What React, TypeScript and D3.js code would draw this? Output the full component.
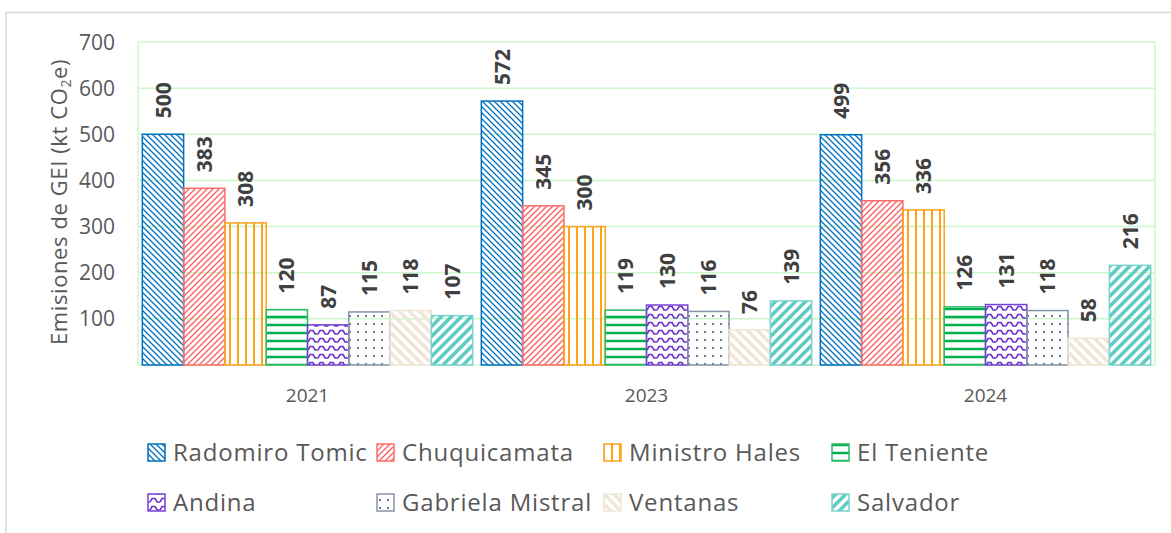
import React from "react";
import * as d3 from "d3";

const categories = ["2021", "2023", "2024"];
const seriesNames = [
  "Radomiro Tomic",
  "Chuquicamata",
  "Ministro Hales",
  "El Teniente",
  "Andina",
  "Gabriela Mistral",
  "Ventanas",
  "Salvador",
];
const radomiroTomic = [500, 572, 499];
const chuquicamata = [383, 345, 356];
const ministroHales = [308, 300, 336];
const elTeniente = [120, 119, 126];
const andina = [87, 130, 131];
const gabrielaMistral = [115, 116, 118];
const ventanas = [118, 76, 58];
const salvador = [107, 139, 216];
const yTicks = [100, 200, 300, 400, 500, 600, 700];

const seriesValues = [
  radomiroTomic,
  chuquicamata,
  ministroHales,
  elTeniente,
  andina,
  gabrielaMistral,
  ventanas,
  salvador,
];

const strokes = [
  "#0070C0",
  "#FF6B6B",
  "#FFA31A",
  "#2DBB66",
  "#7442D4",
  "#8494A8",
  "#EFE6D8",
  "#7AD3CD",
];

const W = 1171;
const H = 533;
const left = 138;
const right = 1155;
const top = 42;
const bottom = 365;

function Patterns() {
  return (
    <defs>
      <pattern id="p0" patternUnits="userSpaceOnUse" width="6" height="6">
        <path d="M0,0L6,6M-1,5L1,7M5,-1L7,1" stroke="#0070C0" strokeWidth="1.3" />
      </pattern>
      <pattern id="p1" patternUnits="userSpaceOnUse" width="6" height="6">
        <path d="M0,6L6,0M-1,1L1,-1M5,7L7,5" stroke="#FF5C5C" strokeWidth="1.3" />
      </pattern>
      <pattern id="p2" patternUnits="userSpaceOnUse" width="8" height="8">
        <path d="M4,0L4,8" stroke="#FFA31A" strokeWidth="2" />
      </pattern>
      <pattern id="p3" patternUnits="userSpaceOnUse" width="8" height="8" y="1">
        <path d="M0,4L8,4" stroke="#00B050" strokeWidth="2.5" />
      </pattern>
      <pattern id="p4" patternUnits="userSpaceOnUse" width="10" height="8">
        <path d="M0,6L2,2.5L5,2.5L7,6L10,6" stroke="#6A30D0" strokeWidth="1.6" fill="none" />
      </pattern>
      <pattern id="p5" patternUnits="userSpaceOnUse" width="8" height="8">
        <rect x="3" y="3" width="2" height="2" fill="#6E7B8C" />
      </pattern>
      <pattern id="p6" patternUnits="userSpaceOnUse" width="10" height="10">
        <path d="M0,0L10,10M-2,8L2,12M8,-2L12,2" stroke="#EFE6D8" strokeWidth="3.5" />
      </pattern>
      <pattern id="p7" patternUnits="userSpaceOnUse" width="10" height="10">
        <path d="M0,10L10,0M-2,2L2,-2M8,12L12,8" stroke="#5ECBC3" strokeWidth="3.5" />
      </pattern>
    </defs>
  );
}

export default function App() {
  const y = d3.scaleLinear().domain([0, 700]).range([bottom, top]);
  const x0 = d3.scaleBand<string>().domain(categories).range([left, right]).padding(0);
  const x1 = d3
    .scaleBand<string>()
    .domain(seriesNames)
    .range([0, x0.bandwidth()])
    .paddingInner(0)
    .paddingOuter(0.105);

  const font = "'Open Sans', sans-serif";
  const gridColor = "#CCF7CC";

  const legendCols = [148, 377, 604, 832];
  const legendRows = [444, 494];

  return (
    <svg
      width={W}
      height={H}
      style={{ position: "absolute", left: 0, top: 0, background: "#fff" }}
      fontFamily={font}
    >
      <Patterns />
      <rect x={6} y={12.5} width={1170} height={530} fill="#fff" stroke="#D9D9D9" strokeWidth={1.5} />

      {/* gridlines */}
      {[0, ...yTicks].map((t) => (
        <line key={t} x1={left} x2={right} y1={y(t)} y2={y(t)} stroke={gridColor} strokeWidth={1.5} />
      ))}
      <line x1={left} x2={left} y1={top} y2={bottom} stroke={gridColor} strokeWidth={1.5} />
      <line x1={right} x2={right} y1={top} y2={bottom} stroke={gridColor} strokeWidth={1.5} />

      {/* y tick labels */}
      {yTicks.map((t) => (
        <text key={t} x={115} y={y(t) + 7.5} textAnchor="end" fontSize={21} fill="#595959">
          {t}
        </text>
      ))}

      {/* y title */}
      <text transform={`translate(67,202) rotate(-90)`} textAnchor="middle" fontSize={22} letterSpacing={0.6} fill="#595959">
        Emisiones de GEI (kt CO
        <tspan fontSize={14} dy={4}>2</tspan>
        <tspan dy={-4}>e)</tspan>
      </text>

      {/* bars */}
      {categories.map((c, ci) => (
        <g key={c} transform={`translate(${x0(c)},0)`}>
          {seriesNames.map((s, si) => {
            const v = seriesValues[si][ci];
            const bx = x1(s)!;
            const bw = x1.bandwidth();
            return (
              <g key={s}>
                <rect
                  x={bx}
                  y={y(v)}
                  width={bw}
                  height={bottom - y(v)}
                  fill={`url(#p${si})`}
                  stroke={strokes[si]}
                  strokeWidth={1.5}
                />
                <text
                  transform={`translate(${bx + bw / 2},${y(v) - 16}) rotate(-90)`}
                  dy="0.36em"
                  textAnchor="start"
                  fontSize={21}
                  fontWeight="bold"
                  fill="#404040"
                >
                  {v}
                </text>
              </g>
            );
          })}
        </g>
      ))}

      {/* x labels */}
      {categories.map((c) => (
        <text
          key={c}
          x={x0(c)! + x0.bandwidth() / 2}
          y={402}
          textAnchor="middle"
          fontSize={19}
          fill="#595959"
        >
          {c}
        </text>
      ))}

      {/* legend */}
      {seriesNames.map((s, i) => {
        const col = i % 4;
        const row = Math.floor(i / 4);
        const lx = legendCols[col];
        const ly = legendRows[row];
        return (
          <g key={s}>
            <rect x={lx} y={ly} width={17} height={17} fill={`url(#p${i})`} stroke={strokes[i]} strokeWidth={1.5} />
            <text x={lx + 25} y={ly + 16.7} fontSize={24} letterSpacing={0.8} fill="#595959">
              {s}
            </text>
          </g>
        );
      })}
    </svg>
  );
}
